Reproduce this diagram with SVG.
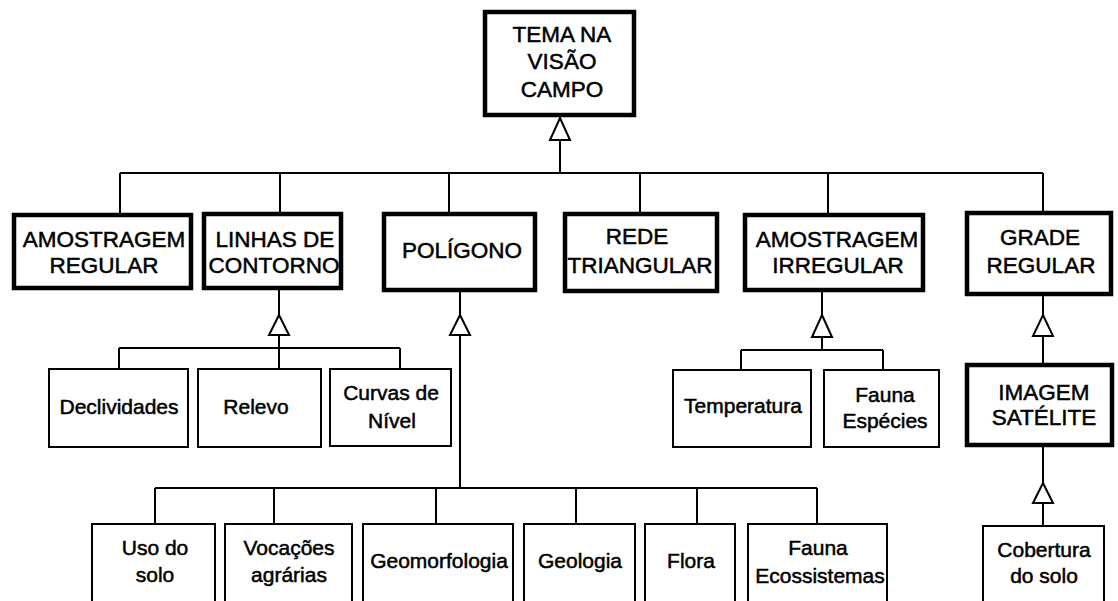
<svg xmlns="http://www.w3.org/2000/svg" width="1118" height="601" viewBox="0 0 1118 601">
<style>
.thick{fill:#fff;stroke:#000;stroke-width:4.5}
.thin{fill:#fff;stroke:#000;stroke-width:2}
.big{font-family:"Liberation Sans",Arial,sans-serif;font-size:22.5px;fill:#000;stroke:#000;stroke-width:0.5;text-anchor:middle}
.sm{font-family:"Liberation Sans",Arial,sans-serif;font-size:21px;fill:#000;stroke:#000;stroke-width:0.5;text-anchor:middle}
.ln{fill:none;stroke:#000;stroke-width:2}
.tri{fill:#fff;stroke:#000;stroke-width:2;stroke-linejoin:miter}
</style>
<rect width="1118" height="601" fill="#fff"/>
<g id="connectors">
<path class="ln" d="M560,140V173M120,173H1043M120,173V213M280,173V212M449,173V212M640,173V212M828,173V213M1043,173V211"/>
<polygon class="tri" points="560,118 550,140 570,140"/>
<path class="ln" d="M279,290V315M279,335V368M119,348H400M119,348V368M400,348V368"/>
<polygon class="tri" points="279,315 269,335 289,335"/>
<path class="ln" d="M460,292V315M460,335V488M155,488H817M155,488V523M274,488V523M436,488V523M576,488V523M697,488V523M817,488V523"/>
<polygon class="tri" points="460,315 450,335 470,335"/>
<path class="ln" d="M822,292V315M822,337V350M741,350H883M741,350V369M883,350V369"/>
<polygon class="tri" points="822,315 812,337 832,337"/>
<path class="ln" d="M1043,296V315M1043,336V363"/>
<polygon class="tri" points="1043,315 1033,336 1053,336"/>
<path class="ln" d="M1043,446V483M1043,503V525"/>
<polygon class="tri" points="1043,483 1033,503 1053,503"/>
</g>
<g id="tema">
<rect class="thick" x="485" y="12" width="149" height="103"/>
<text class="big" x="562" y="42">TEMA NA</text>
<text class="big" x="562" y="69">VISÃO</text>
<text class="big" x="562" y="97">CAMPO</text>
</g>
<g id="amostragem-regular">
<rect class="thick" x="14" y="215" width="177" height="73"/>
<text class="big" x="104" y="247">AMOSTRAGEM</text>
<text class="big" x="104" y="273">REGULAR</text>
</g>
<g id="linhas-contorno">
<rect class="thick" x="204" y="214" width="137" height="74"/>
<text class="big" x="275" y="247">LINHAS DE</text>
<text class="big" x="274" y="273">CONTORNO</text>
</g>
<g id="poligono">
<rect class="thick" x="384" y="214" width="151" height="76"/>
<text class="big" x="462" y="258">POLÍGONO</text>
</g>
<g id="rede-triangular">
<rect class="thick" x="565" y="214" width="152" height="77"/>
<text class="big" x="637" y="244">REDE</text>
<text class="big" x="640" y="273">TRIANGULAR</text>
</g>
<g id="amostragem-irregular">
<rect class="thick" x="745" y="215" width="178" height="75"/>
<text class="big" x="837" y="247">AMOSTRAGEM</text>
<text class="big" x="838" y="273">IRREGULAR</text>
</g>
<g id="grade-regular">
<rect class="thick" x="967" y="213" width="144" height="81"/>
<text class="big" x="1040" y="245">GRADE</text>
<text class="big" x="1041" y="273">REGULAR</text>
</g>
<g id="declividades">
<rect class="thin" x="49" y="369" width="139" height="78"/>
<text class="sm" x="119" y="414">Declividades</text>
</g>
<g id="relevo">
<rect class="thin" x="198" y="369" width="123" height="78"/>
<text class="sm" x="256" y="414">Relevo</text>
</g>
<g id="curvas-nivel">
<rect class="thin" x="330" y="369" width="121" height="77"/>
<text class="sm" x="391" y="400">Curvas de</text>
<text class="sm" x="392" y="428">Nível</text>
</g>
<g id="temperatura">
<rect class="thin" x="673" y="370" width="138" height="77"/>
<text class="sm" x="743" y="413">Temperatura</text>
</g>
<g id="fauna-especies">
<rect class="thin" x="824" y="370" width="115" height="77"/>
<text class="sm" x="885" y="402">Fauna</text>
<text class="sm" x="885" y="428">Espécies</text>
</g>
<g id="imagem-satelite">
<rect class="thick" x="967" y="365" width="145" height="80"/>
<text class="big" x="1044" y="400">IMAGEM</text>
<text class="big" x="1044" y="425">SATÉLITE</text>
</g>
<g id="uso-solo">
<rect class="thin" x="92" y="524" width="123" height="100"/>
<text class="sm" x="155" y="555">Uso do</text>
<text class="sm" x="155" y="582">solo</text>
</g>
<g id="vocacoes">
<rect class="thin" x="225" y="524" width="127" height="100"/>
<text class="sm" x="289" y="555">Vocações</text>
<text class="sm" x="289" y="582">agrárias</text>
</g>
<g id="geomorfologia">
<rect class="thin" x="363" y="524" width="150" height="100"/>
<text class="sm" x="439" y="568">Geomorfologia</text>
</g>
<g id="geologia">
<rect class="thin" x="524" y="524" width="111" height="100"/>
<text class="sm" x="580" y="568">Geologia</text>
</g>
<g id="flora">
<rect class="thin" x="645" y="524" width="90" height="100"/>
<text class="sm" x="691" y="568">Flora</text>
</g>
<g id="fauna-ecossistemas">
<rect class="thin" x="748" y="524" width="139" height="100"/>
<text class="sm" x="818" y="555">Fauna</text>
<text class="sm" x="820" y="583">Ecossistemas</text>
</g>
<g id="cobertura-solo">
<rect class="thin" x="983" y="526" width="121" height="100"/>
<text class="sm" x="1044" y="557">Cobertura</text>
<text class="sm" x="1044" y="583">do solo</text>
</g>
</svg>
